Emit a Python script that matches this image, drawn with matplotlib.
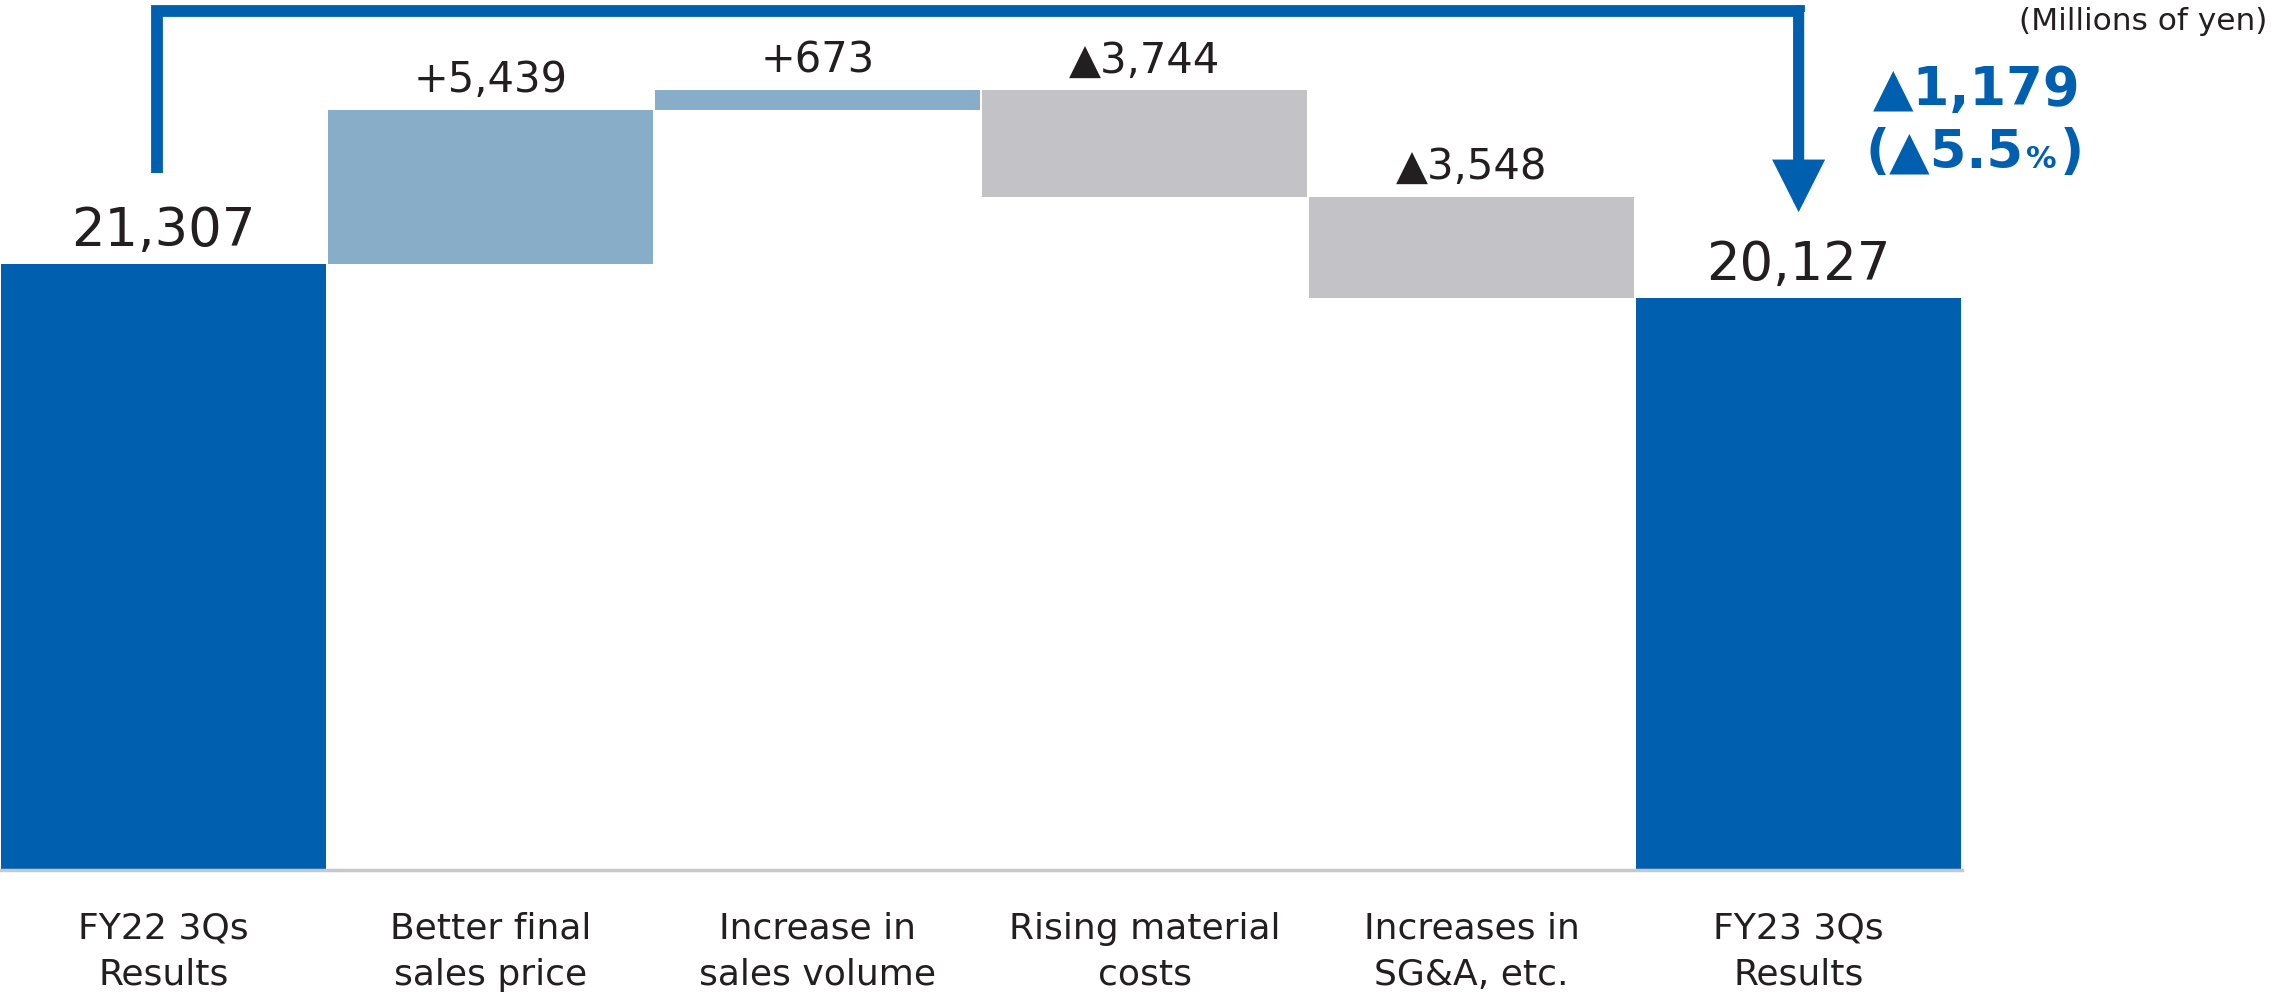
import matplotlib
matplotlib.use("Agg")
import matplotlib.pyplot as plt
from matplotlib.offsetbox import TextArea, HPacker, AnnotationBbox

# ---- data ----
categories = ["FY22 3Qs\nResults", "Better final\nsales price", "Increase in\nsales volume",
              "Rising material\ncosts", "Increases in\nSG&A, etc.", "FY23 3Qs\nResults"]
start_value = 21307
changes = [5439, 673, -3744, -3548]
end_value = 20127
total_change = -1179
total_change_pct = -5.5
unit_label = "(Millions of yen)"

# ---- styles ----
DARK = "#0060AF"
LIGHT = "#87ADC8"
GRAY = "#C3C2C7"
TXT = "#231F20"
plt.rcParams["font.family"] = ["DejaVu Sans"]

fig = plt.figure(figsize=(22.71, 10), dpi=100)
ax = fig.add_axes([0.0, 0.13, 0.864, 0.87])

# waterfall geometry
bottoms, heights, colors, labels = [], [], [], []
bottoms.append(0); heights.append(start_value); colors.append(DARK); labels.append(f"{start_value:,}")
running = start_value
for c in changes:
    if c >= 0:
        bottoms.append(running); colors.append(LIGHT); labels.append(f"+{c:,}")
    else:
        bottoms.append(running + c); colors.append(GRAY); labels.append(f"\u25B2{abs(c):,}")
    heights.append(abs(c))
    running += c
bottoms.append(0); heights.append(end_value); colors.append(DARK); labels.append(f"{end_value:,}")

x = list(range(len(categories)))
ax.bar(x, heights, bottom=bottoms, width=0.993, color=colors, zorder=2)

for i, (b, h, lab) in enumerate(zip(bottoms, heights, labels)):
    big = i in (0, len(categories) - 1)
    ax.annotate(lab, xy=(i, b + h), xytext=(0, 13), textcoords="offset points",
                ha="center", va="baseline", fontsize=38 if big else 30, color=TXT)

ax.set_xlim(-0.5, 5.5)
ax.set_ylim(0, 30600)
ax.set_xticks(x)
ax.set_xticklabels(categories, fontsize=26, color=TXT, linespacing=1.45)
ax.tick_params(axis="x", length=0, pad=30)
ax.set_yticks([])
for s in ["top", "right", "left"]:
    ax.spines[s].set_visible(False)
ax.spines["bottom"].set_color("#C8C8CC")
ax.spines["bottom"].set_linewidth(2.5)

# bracket arrow from first total to last total
y_top = 30230
left_x = x[0] - 0.02
right_x = x[-1]
left_bottom = start_value + 3200
tip = end_value + 3010
ax.plot([left_x, left_x, right_x, right_x], [left_bottom, y_top, y_top, y_top - 50],
        color=DARK, lw=8.5, solid_joinstyle="miter", solid_capstyle="butt",
        clip_on=False, zorder=3)
ax.annotate("", xy=(right_x, tip), xytext=(right_x, y_top),
            arrowprops=dict(arrowstyle="-|>,head_length=1.25,head_width=0.63",
                            mutation_scale=20, color=DARK, lw=8.0,
                            shrinkA=0, shrinkB=0, joinstyle="miter"),
            annotation_clip=False, zorder=3)

# totals annotation
fig.text(0.8706, 0.910, f"\u25B2{abs(total_change):,}", ha="center", va="center",
         fontsize=38, fontweight="bold", color=DARK)
parts = [TextArea(f"(\u25B2{abs(total_change_pct)}", textprops=dict(fontsize=38, fontweight="bold", color=DARK)),
         TextArea("%", textprops=dict(fontsize=22, fontweight="bold", color=DARK)),
         TextArea(")", textprops=dict(fontsize=38, fontweight="bold", color=DARK))]
pack = HPacker(children=parts, align="baseline", pad=0, sep=2)
ab = AnnotationBbox(pack, (0.8695, 0.847), xycoords="figure fraction",
                    box_alignment=(0.5, 0.5), frameon=False, annotation_clip=False)
fig.add_artist(ab)

fig.text(0.9985, 0.978, unit_label, ha="right", va="center", fontsize=22.5, color=TXT)

fig.savefig("out.png", dpi=100)
